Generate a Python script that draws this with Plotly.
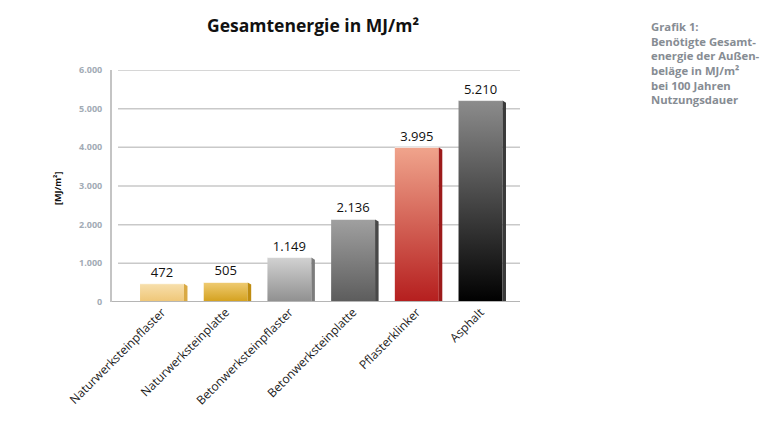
import plotly.graph_objects as go

categories = ["Naturwerksteinpflaster", "Naturwerksteinplatte", "Betonwerksteinpflaster",
              "Betonwerksteinplatte", "Pflasterklinker", "Asphalt"]
values = [472, 505, 1149, 2136, 3995, 5210]
top_colors = ["#f7dfac", "#efcb72", "#d2d2d2", "#a0a0a0", "#f0a48c", "#8c8c8c"]
bottom_colors = ["#efc676", "#d3a01c", "#8f8f8f", "#5c5c5c", "#b51e1e", "#000000"]
side_colors = ["#d9a943", "#bf8c10", "#7c7c7c", "#484848", "#9c1a1a", "#3a3a3a"]
y_ticks = [0, 1000, 2000, 3000, 4000, 5000, 6000]

W = 772
L, R, T, B = 112, 520, 70, 302
bar_w = 0.69
side_w = 0.055
side_drop = 55

fig = go.Figure()

# invisible bars carrying the value labels
fig.add_trace(go.Bar(
    x=list(range(len(categories))), y=values, width=bar_w,
    marker=dict(color="rgba(0,0,0,0)", line=dict(width=0)),
    text=values, texttemplate="%{y:,d}", textposition="outside",
    textfont=dict(family="Open Sans", size=13, color="#111111"),
    cliponaxis=False, hoverinfo="skip", showlegend=False,
))

for i, v in enumerate(values):
    x0, x1 = i - bar_w / 2, i + bar_w / 2
    # front face with vertical gradient
    fig.add_trace(go.Scatter(
        x=[x0, x1, x1, x0, x0], y=[0, 0, v, v, 0],
        mode="lines", line=dict(width=0), fill="toself",
        fillgradient=dict(type="vertical", start=0, stop=v,
                          colorscale=[[0, bottom_colors[i]], [1, top_colors[i]]]),
        hoverinfo="skip", showlegend=False,
    ))
    # side face (3D effect)
    fig.add_trace(go.Scatter(
        x=[x1, x1 + side_w, x1 + side_w, x1, x1], y=[0, 0, v - side_drop, v, 0],
        mode="lines", line=dict(width=0), fill="toself", fillcolor=side_colors[i],
        hoverinfo="skip", showlegend=False,
    ))
    # top highlight
    fig.add_trace(go.Scatter(
        x=[x0, x1], y=[v, v], mode="lines",
        line=dict(color="rgba(255,255,255,0.6)", width=1),
        hoverinfo="skip", showlegend=False,
    ))

shapes = []
for t in y_ticks[1:]:
    shapes.append(dict(type="line", xref="paper", yref="y", x0=6 / (R - L), x1=1, y0=t, y1=t,
                       line=dict(color="#c9c9c9", width=1.5), layer="below"))
shapes.append(dict(type="line", xref="paper", yref="y", x0=0, x1=1, y0=0, y1=0,
                   line=dict(color="#b5b5b5", width=2), layer="above"))

fig.update_layout(
    width=W, height=426,
    margin=dict(l=L, r=W - R, t=T, b=426 - B),
    paper_bgcolor="white", plot_bgcolor="white",
    separators=",.",
    shapes=shapes,
    xaxis=dict(
        range=[-0.785, 5.62], tickmode="array",
        tickvals=list(range(len(categories))), ticktext=categories,
        tickangle=-45, tickfont=dict(family="Open Sans", size=12, color="#1a1a1a"),
        showgrid=False, zeroline=False, showline=False, ticks="",
    ),
    yaxis=dict(
        range=[0, 6000], tickmode="array", tickvals=y_ticks, tickformat=",d",
        tickfont=dict(family="Open Sans", size=9, color="#a2abb5", weight="bold"),
        showgrid=False, zeroline=False, showline=True, linecolor="#c4c4c4", linewidth=2,
        ticks="", ticklabelstandoff=6,
    ),
    annotations=[
        dict(text="<b>Gesamtenergie in MJ/m²</b>", xref="paper", yref="paper",
             x=(313 - L) / (R - L), y=1 + (T - 25) / (B - T), xanchor="center", yanchor="middle",
             showarrow=False, font=dict(family="Open Sans", size=17.5, color="#111111")),
        dict(text="<b>[MJ/m²]</b>", xref="paper", yref="paper",
             x=(57 - L) / (R - L), y=(B - 189) / (B - T), xanchor="center", yanchor="middle",
             textangle=-90, showarrow=False,
             font=dict(family="Open Sans", size=9, color="#111111")),
        dict(text="<b>Grafik 1:<br>Benötigte Gesamt-<br>energie der Außen-<br>beläge in MJ/m²<br>bei 100 Jahren<br>Nutzungsdauer</b>",
             xref="paper", yref="paper", align="left",
             x=(649 - L) / (R - L), y=1 + (T - 17) / (B - T), xanchor="left", yanchor="top",
             showarrow=False, font=dict(family="Open Sans", size=11.3, color="#868c93")),
    ],
)

fig.write_html("out.html")
